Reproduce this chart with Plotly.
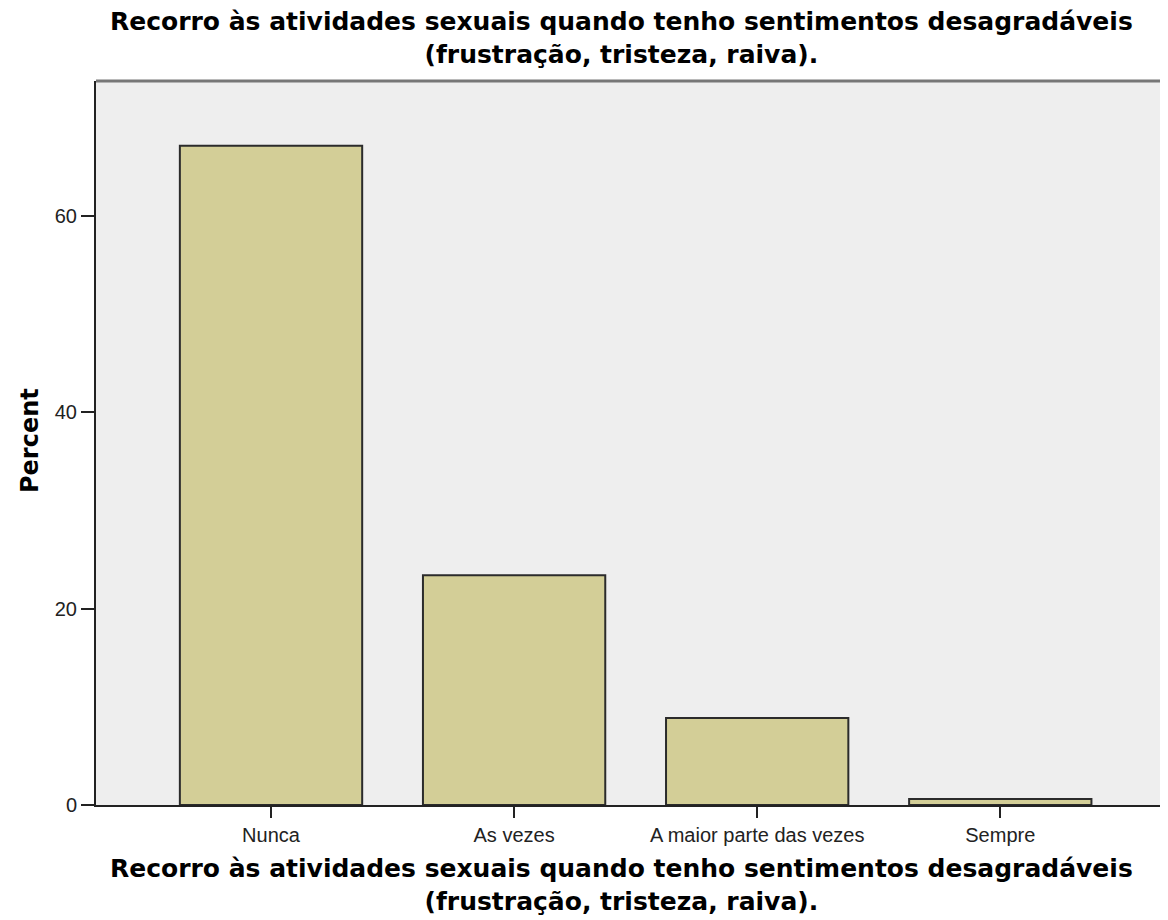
import plotly.graph_objects as go

categories = ["Nunca", "As vezes", "A maior parte das vezes", "Sempre"]
percent = [67.1, 23.4, 8.85, 0.6]
y_ticks = [0, 20, 40, 60]

title_line1 = "Recorro às atividades sexuais quando tenho sentimentos desagradáveis"
title_line2 = "(frustração, tristeza, raiva)."
y_title = "Percent"

# page offset (body margin) of 8px
OFF = 8
W, H = 1168 - OFF, 920 - OFF
PX0, PX1, PY0, PY1 = 96, 1168, 81, 805  # plot area in page pixels
L, T = PX0 - OFF, PY0 - OFF
R, B = 0, 920 - PY1


def px(x):
    return (x - PX0) / (PX1 - PX0)


def py(y):
    return (PY1 - y) / (PY1 - PY0)


FONT = "Liberation Sans, Arial, sans-serif"
BOLD = "DejaVu Sans, Liberation Sans, Arial, sans-serif"

fig = go.Figure()
fig.add_trace(go.Bar(
    x=list(range(len(categories))), y=percent, width=0.75,
    marker=dict(color="#D3CE97", line=dict(color="#2b2b2b", width=2)),
))

title_html = "<b>" + title_line1 + "<br>" + title_line2 + "</b>"
ann = []
for x, y in [(621, 38), (621, 885)]:
    ann.append(dict(text=title_html, xref="paper", yref="paper",
                    x=px(x), y=py(y), xanchor="center", yanchor="middle",
                    showarrow=False, align="center",
                    font=dict(size=25, family=BOLD, color="black")))
ann.append(dict(text="<b>" + y_title + "</b>", xref="paper", yref="paper",
                x=px(30), y=py(441), xanchor="center", yanchor="middle", textangle=-90,
                showarrow=False, font=dict(size=24, family=BOLD, color="black")))

fig.update_layout(
    width=W, height=H,
    margin=dict(l=L, r=R, t=T, b=B, autoexpand=False),
    paper_bgcolor="white", plot_bgcolor="#EEEEEE",
    showlegend=False,
    font=dict(family=FONT, color="#222"),
    xaxis=dict(
        range=[-0.72, 3.69], tickmode="array", tickvals=list(range(len(categories))),
        ticktext=categories, ticks="outside", ticklen=11, tickcolor="#222", tickwidth=2,
        showline=True, linecolor="#222", linewidth=2, showgrid=False, zeroline=False,
        tickfont=dict(size=20, family=FONT, color="#222"),
    ),
    yaxis=dict(
        range=[0, 73.7], tickmode="array", tickvals=y_ticks, ticks="outside", ticklen=13,
        tickcolor="#222", tickwidth=2, showline=True, linecolor="#222", linewidth=2,
        showgrid=False, zeroline=False, tickfont=dict(size=20, family=FONT, color="#222"),
    ),
    shapes=[dict(type="line", xref="paper", yref="paper", x0=0, x1=1, y0=1, y1=1,
                 line=dict(color="#777", width=3))],
    annotations=ann,
)
fig.write_html("out.html")
